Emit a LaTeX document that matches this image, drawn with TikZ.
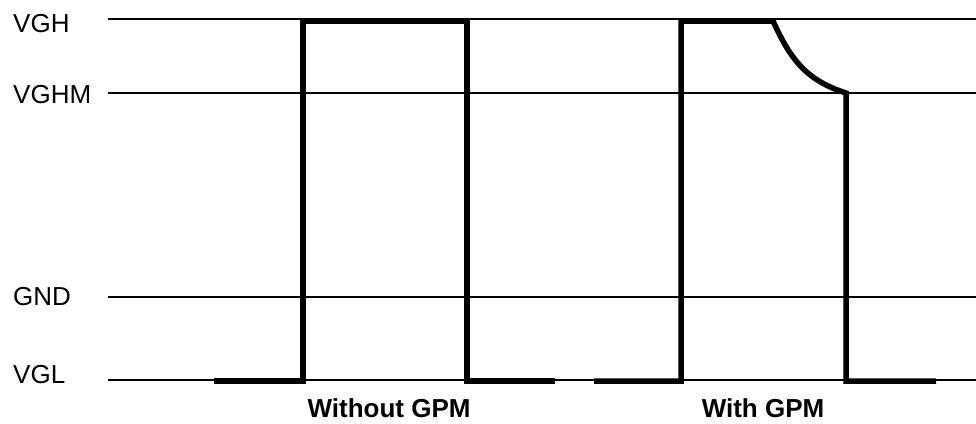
\documentclass[tikz,border=0pt]{standalone}
\usepackage{fontspec}
\setmainfont{Liberation Sans}
\begin{document}
\begin{tikzpicture}[x=1pt,y=-1pt,
    nivel/.style={line width=2pt},
    senal/.style={line width=5.5pt, line join=miter},
    etiq/.style={anchor=base west, inner sep=0pt, font=\fontsize{26}{30}\selectfont},
    titulo/.style={anchor=base, inner sep=0pt, font=\fontsize{26}{30}\selectfont\bfseries}]
\useasboundingbox (0,0) rectangle (976,423);
% niveles de tension
\draw[nivel] (108,19) -- (976,19);
\draw[nivel] (108,93) -- (976,93);
\draw[nivel] (108,297) -- (976,297);
\draw[nivel] (108,380) -- (976,380);
\node[etiq] (vgh) at (13,32) {VGH};
\node[etiq] (vghm) at (13,103) {VGHM};
\node[etiq] (gnd) at (13,305) {GND};
\node[etiq] (vgl) at (13,383) {VGL};
% sin GPM
\draw[senal] (214,381) -- (303,381) -- (303,21) -- (467,21) -- (467,381) -- (555,381);
% con GPM
\draw[senal] (594,381) -- (681,381) -- (681,21) -- (773,21)
    .. controls (790,58) and (805,80) .. (846,93) -- (846,381) -- (936,381);
\node[titulo] (sin) at (389,417) {Without GPM};
\node[titulo] (con) at (763,417) {With GPM};
\end{tikzpicture}
\end{document}
